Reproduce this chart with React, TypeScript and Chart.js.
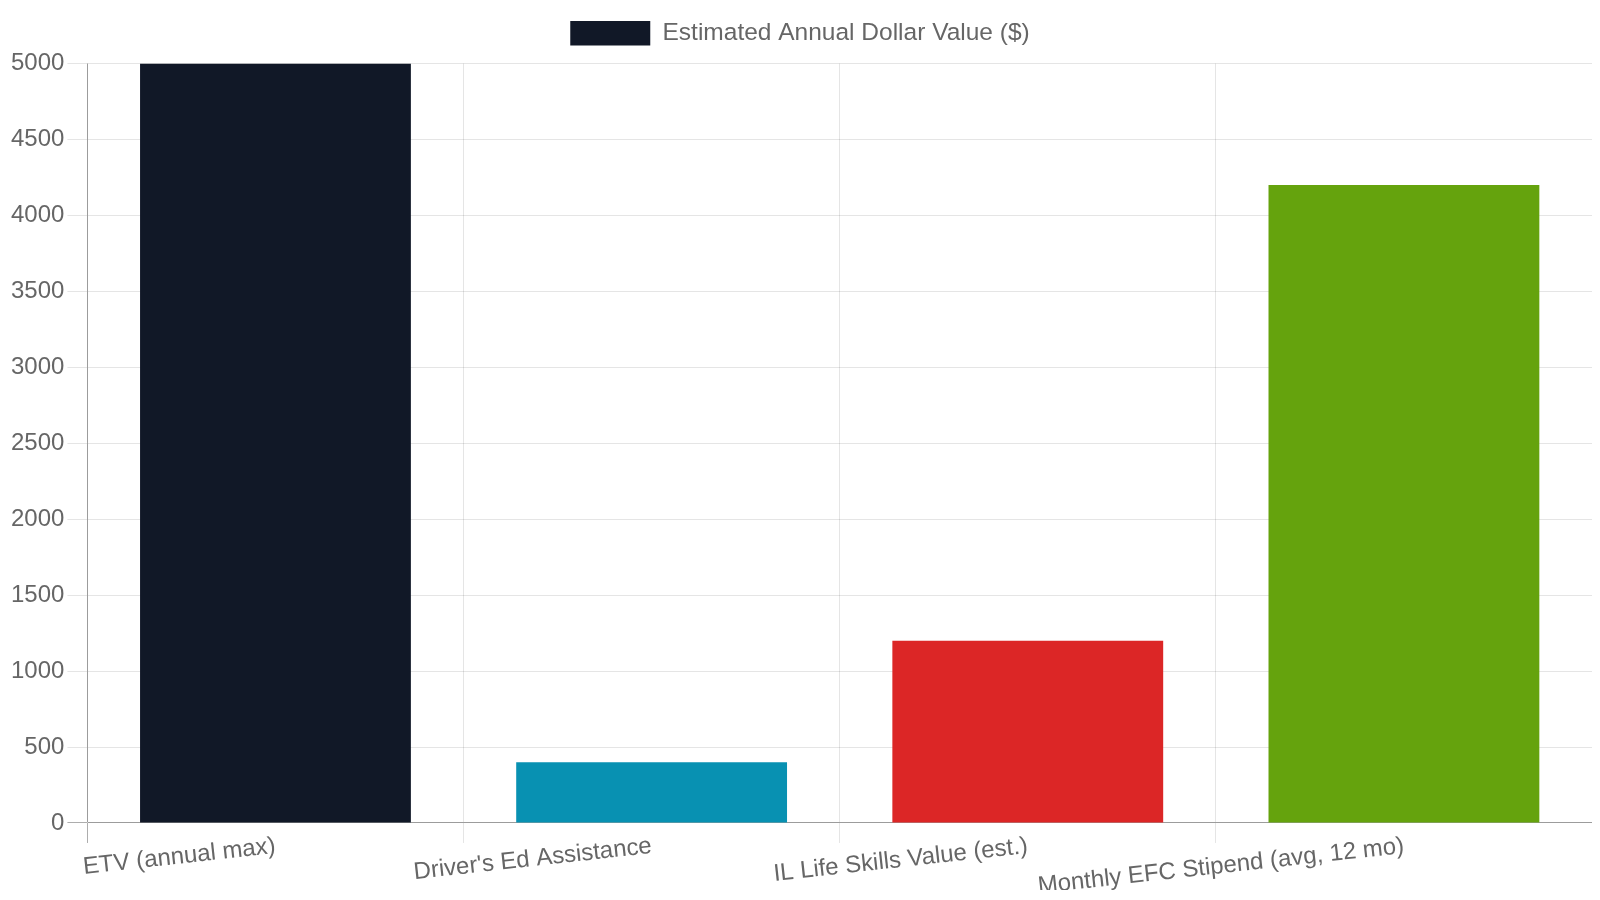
import React, { useEffect, useRef } from "react";
import { Chart, registerables } from "chart.js";

Chart.register(...registerables);

const categories = [
  "ETV (annual max)",
  "Driver's Ed Assistance",
  "IL Life Skills Value (est.)",
  "Monthly EFC Stipend (avg, 12 mo)",
];
const values = [5000, 400, 1200, 4200];
const barColors = ["#111827", "#0891b2", "#dc2626", "#65a30d"];
const seriesLabel = "Estimated Annual Dollar Value ($)";
const yMax = 5000;
const yStep = 500;

const gridColor = (ctx: any) =>
  ctx.tick && ctx.tick.value === 0 ? "rgba(0,0,0,0.32)" : "rgba(0,0,0,0.1)";

const legendSpacer = {
  id: "legendSpacer",
  beforeInit(chart: any) {
    const legend = chart.legend;
    if (!legend) return;
    const origFit = legend.fit;
    legend.fit = function () {
      origFit.call(this);
      this.height += 8;
    };
  },
};

export default function App() {
  const ref = useRef<HTMLCanvasElement | null>(null);
  useEffect(() => {
    if (!ref.current) return;
    Chart.defaults.font.family = "'Liberation Sans', Arial, sans-serif";
    Chart.defaults.font.size = 24;
    Chart.defaults.color = "#666";
    const chart = new Chart(ref.current, {
      type: "bar",
      data: {
        labels: categories,
        datasets: [
          {
            label: seriesLabel,
            data: values,
            backgroundColor: barColors,
            borderWidth: 0,
          },
        ],
      },
      plugins: [legendSpacer],
      options: {
        animation: false,
        responsive: true,
        maintainAspectRatio: false,
        plugins: {
          legend: {
            display: true,
            position: "top",
            labels: { boxWidth: 80, padding: 13, font: { size: 24.5 } },
          },
          tooltip: { enabled: false },
        },
        scales: {
          x: {
            grid: { color: gridColor, tickLength: 20 },
            ticks: {
              font: { size: 24 },
              minRotation: 6.3,
              maxRotation: 6.3,
              padding: -11,
            },
          },
          y: {
            beginAtZero: true,
            min: 0,
            max: yMax,
            grid: { color: gridColor, tickLength: 20 },
            ticks: {
              stepSize: yStep,
              font: { size: 24 },
              callback: (v: any) => String(v),
            },
          },
        },
      },
    });
    return () => chart.destroy();
  }, []);
  return (
    <div style={{ position: "relative", width: "100%", height: "882px" }}>
      <canvas ref={ref} />
    </div>
  );
}
